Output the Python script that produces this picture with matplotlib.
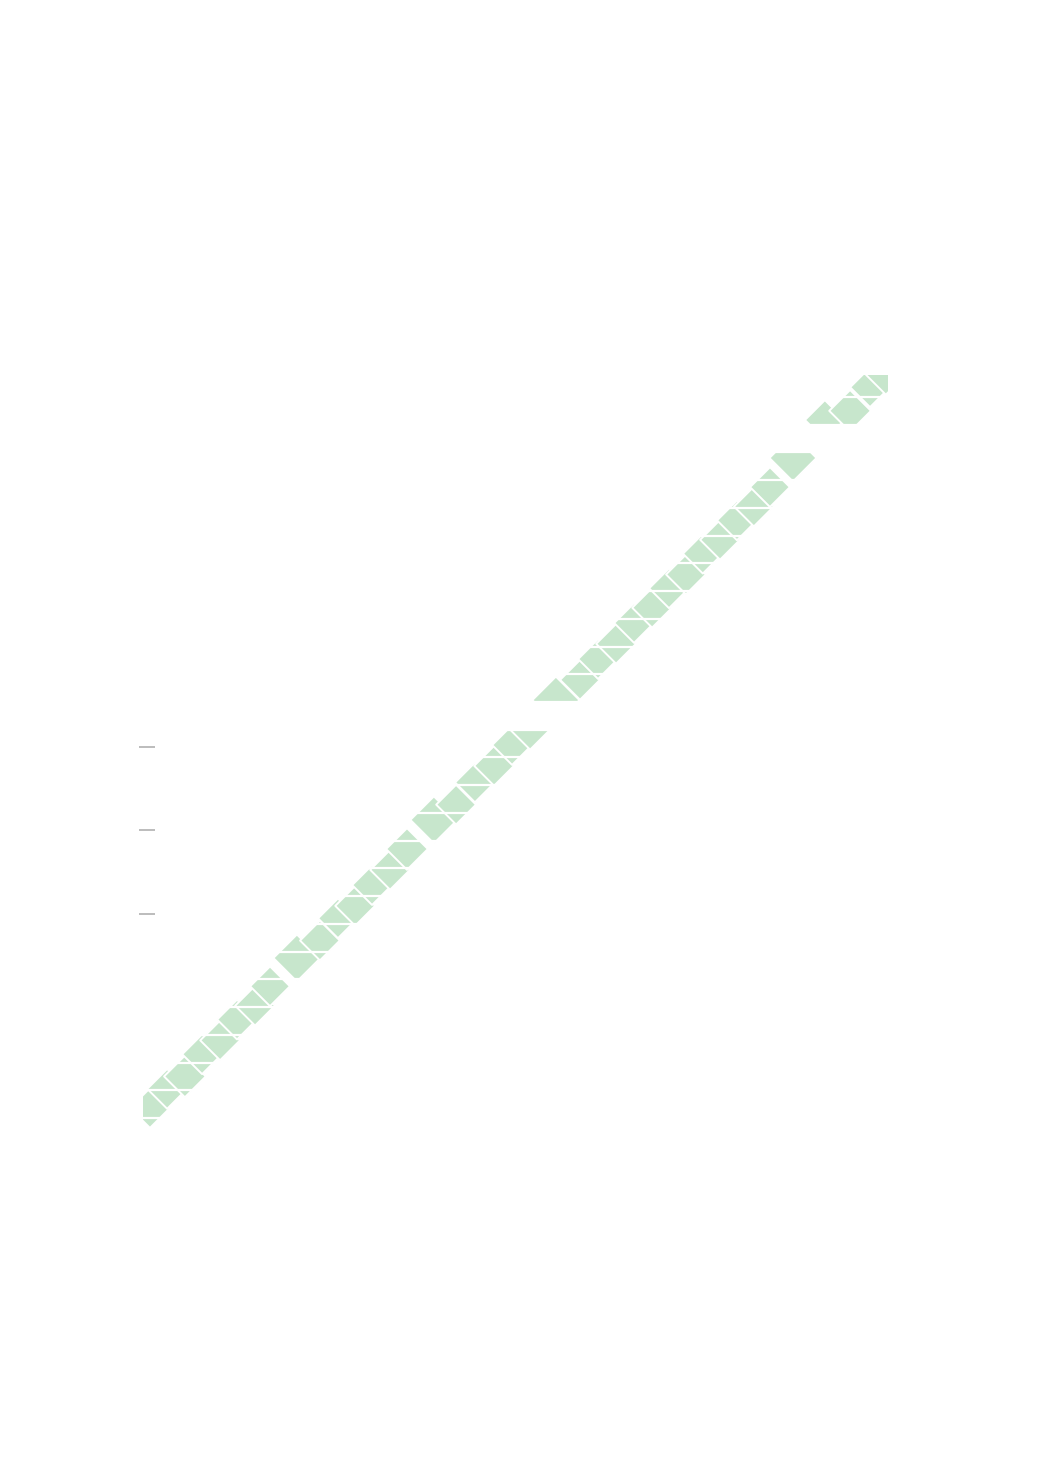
import matplotlib
matplotlib.use("Agg")
import matplotlib.pyplot as plt

# centres of the diamonds along the diagonal
x_vals = [0.32, 0.94, 1.58, 2.20, 2.85, 3.46, 4.11, 4.65, 5.62, 6.45,
          7.10, 7.72, 8.33, 8.98, 9.59, 10.56, 11.36, 12.04, 12.73, 13.38,
          14.03, 14.96, 15.83, 16.48, 17.13, 17.78, 18.43, 19.04, 19.65, 20.26,
          20.88, 21.49, 22.10, 22.68, 23.51, 24.66, 25.57, 26.29, 26.86]
y_vals = [0.36, 1.05, 1.50, 2.30, 2.80, 3.55, 4.05, 4.75, 5.77, 6.40,
          7.20, 7.65, 8.40, 8.95, 9.70, 10.75, 11.30, 12.10, 12.70, 13.45,
          14.00, 15.07, 15.80, 16.55, 17.10, 17.85, 18.40, 19.10, 19.60, 20.35,
          20.85, 21.55, 22.05, 22.75, 23.80, 25.17, 25.50, 26.35, 26.80]
weights = [1.0, 1.0, 1.1, 1.0, 1.0, 1.0, 1.0, 1.0, 1.4, 1.0,
           1.0, 1.0, 1.0, 1.0, 1.1, 1.4, 1.0, 1.0, 1.0, 1.0,
           1.0, 1.4, 1.0, 1.0, 1.0, 1.0, 1.0, 1.0, 1.0, 1.0,
           1.0, 1.0, 1.0, 1.0, 1.4, 1.0, 1.1, 1.0, 1.0]
empty_rows = [14, 24]
tick_vals = [7.36, 10.37, 13.38]

fig = plt.figure(figsize=(10.41, 14.72), dpi=100)
ax = fig.add_axes([0.1374, 0.2303, 0.7157, 0.5149])

ax.scatter(x_vals, y_vals, s=[w * 410 for w in weights], marker="D",
           color="#c7e6cc", edgecolors="white", linewidths=1.4, zorder=1)

for r in empty_rows:
    ax.axhspan(r, r + 1, color="white", zorder=2, lw=0)

ax.set_xlim(0.07, 26.94)
ax.set_ylim(-0.54, 26.79)

ax.set_yticks(range(0, 27), minor=True)
ax.set_yticks(tick_vals)
ax.set_yticklabels([])
ax.set_xticks([])
ax.grid(axis="y", which="minor", color="white", linewidth=1.6, zorder=3)
ax.set_axisbelow(False)
ax.tick_params(axis="y", which="minor", length=0)
ax.tick_params(axis="y", which="major", direction="inout", length=11,
               width=1.1, color="#aaaaaa")
ax.spines["left"].set_position(("outward", -2.5))
for sp in ax.spines.values():
    sp.set_visible(False)

fig.savefig("out.png", dpi=100, facecolor="white")
